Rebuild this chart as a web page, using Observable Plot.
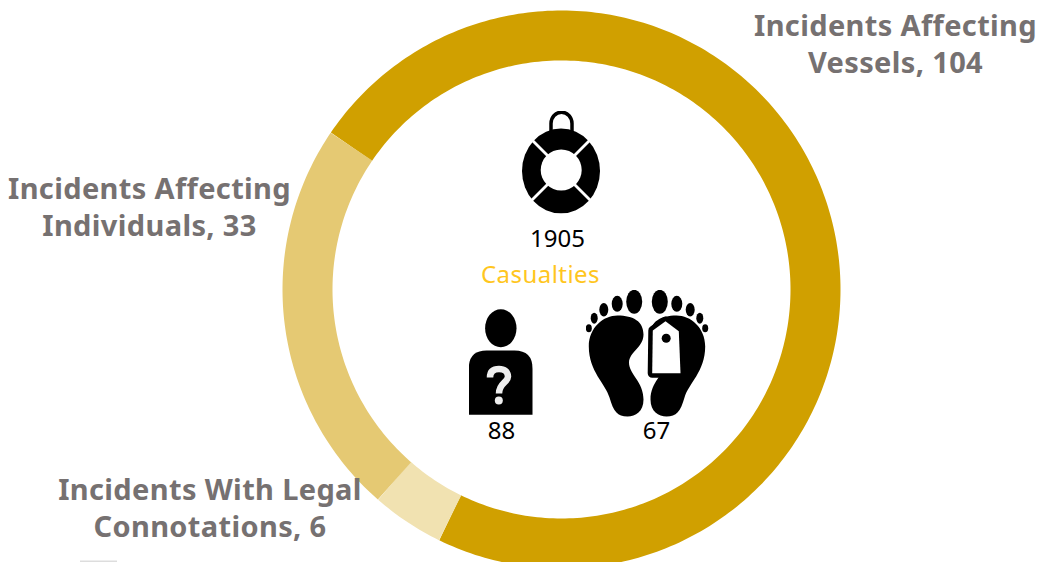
<!DOCTYPE html>
<html>
<head>
<meta charset="utf-8">
<script src="https://cdn.jsdelivr.net/npm/d3@7"></script>
<script src="https://cdn.jsdelivr.net/npm/@observablehq/plot@0.6"></script>
<style>
html,body{margin:0;padding:0;background:#fff;overflow:hidden}
svg{display:block}
.slabel text{letter-spacing:.36px}
.scasual text{letter-spacing:.45px}
</style>
</head>
<body>
<div id="chart"></div>
<script>
// Chart values, in clockwise order around the ring
const categories = ["Incidents Affecting\nVessels", "Incidents With Legal\nConnotations", "Incidents Affecting\nIndividuals"];
const incidents = [104, 6, 33];
const sliceColors = ["#d0a000", "#f1e2b1", "#e5c973"];
const casualtyLabel = "Casualties";
const casualtyValues = [1905, 88, 67];

// Layout (pixels in the 1038x562 frame)
const W = 1038, H = 562;
const cx = 561, cy = 289, ringRadius = 254, ringWidth = 50;
const startDeg = -55.8;
const labelAnchors = [[895, 42], [209.5, 506], [149, 205]];
const valueAnchors = [[557, 239], [501, 431], [656, 431]];

// Ring paths derived from the values
const pie = d3.pie().sort(null).startAngle(startDeg * Math.PI / 180).endAngle((startDeg + 360) * Math.PI / 180);
const arcs = pie(incidents);
const ringPoints = arcs.flatMap((a, i) => {
  const n = Math.ceil((a.endAngle - a.startAngle) / (Math.PI / 180));
  return d3.range(n + 1).map(k => {
    const t = a.startAngle + (a.endAngle - a.startAngle) * k / n;
    return {slice: i, x: cx + ringRadius * Math.sin(t), y: cy - ringRadius * Math.cos(t)};
  });
});

const svgUri = (w, h, body) => "data:image/svg+xml;utf8," + encodeURIComponent(
  `<svg xmlns="http://www.w3.org/2000/svg" width="${w}" height="${h}" viewBox="0 0 ${w} ${h}">${body}</svg>`);

const buoy = svgUri(80, 103, `
  <path d="M29.5 24V13A10.5 11.3 0 0 1 50.5 13V24" fill="none" stroke="#000" stroke-width="3.5"/>
  <ellipse cx="39.5" cy="60.5" rx="39" ry="42.5" fill="#000"/>
  <circle cx="39.7" cy="59.5" r="20.5" fill="#fff"/>
  <g stroke="#fff" stroke-width="2.8">
    <path d="M8 27L27 46"/><path d="M71 27L52 46"/><path d="M8 92L27 73"/><path d="M71 92L52 73"/>
  </g>`);

const person = svgUri(65, 107, `
  <ellipse cx="32.3" cy="19.7" rx="15.7" ry="19" fill="#000"/>
  <path d="M0.3 106.3V60Q0.3 42 18 42H46Q64 42 64 60V106.3Z" fill="#000"/>
  <path d="M21.5 69C21.5 63 25 60.5 30.5 60.5C36 60.5 39.5 63.5 39.5 68C39.5 74 30.5 74.5 30.5 85" fill="none" stroke="#eee" stroke-width="6.5"/>
  <circle cx="30.3" cy="92" r="4" fill="#eee"/>`);

const footPath = "M32 26C48 26 58 32 58 45C58 58 44 62 43.5 73C43.5 85 58 92 58 110C58 122 50 127 42 127C32 127 28 122 24 108C20 94 3.3 82 3.3 57C3.3 38 18 26 32 26Z";
const toes = `<ellipse cx="48.7" cy="12.3" rx="8" ry="12"/><ellipse cx="31.7" cy="14.3" rx="5.5" ry="8"/><ellipse cx="18.3" cy="20.3" rx="4.5" ry="6.7"/><ellipse cx="8.7" cy="28.7" rx="3.5" ry="5.5"/><ellipse cx="3.3" cy="38.7" rx="3" ry="4"/>`;
const tagShape = "67.3,41 80,31.7 93.3,41.7 95,83.7 66.7,83.7";
const feet = svgUri(125, 129, `
  <g fill="#000"><path d="${footPath}"/>${toes}</g>
  <g fill="#000" transform="translate(123 0) scale(-1 1)"><path d="${footPath}"/>${toes}</g>
  <polygon points="${tagShape}" fill="#000" stroke="#000" stroke-width="9" stroke-linejoin="round"/>
  <polygon points="${tagShape}" fill="#fff"/>
  <circle cx="80.7" cy="48.7" r="4.5" fill="#000"/>`);

const icons = [
  {src: buoy, x: 561, y: 161.5, w: 80, h: 103},
  {src: person, x: 500.5, y: 361.5, w: 65, h: 107},
  {src: feet, x: 647.5, y: 353.5, w: 125, h: 129}
];

const labelData = categories.map((c, i) => ({
  text: `${c}, ${incidents[i]}`, x: labelAnchors[i][0], y: labelAnchors[i][1]
}));
const valueData = casualtyValues.map((v, i) => ({text: String(v), x: valueAnchors[i][0], y: valueAnchors[i][1]}));

const chart = Plot.plot({
  width: W, height: H, margin: 0,
  x: {domain: [0, W], range: [0, W], axis: null},
  y: {domain: [0, H], range: [0, H], axis: null},
  style: {background: "#fff"},
  marks: [
    Plot.line(ringPoints, {x: "x", y: "y", z: "slice", stroke: d => sliceColors[d.slice], strokeWidth: ringWidth, strokeLinecap: "butt", strokeLinejoin: "round", curve: "linear"}),
    Plot.text(labelData, {x: "x", y: "y", text: "text", fill: "#767171", fontFamily: "'Noto Sans'", fontWeight: 700, fontSize: 29, lineHeight: 1.27, textAnchor: "middle", lineAnchor: "middle", className: "slabel"}),
    Plot.text(valueData, {x: "x", y: "y", text: "text", fill: "#000", fontFamily: "'Noto Sans'", fontSize: 24, textAnchor: "middle", lineAnchor: "middle"}),
    Plot.text([casualtyLabel], {x: () => 540, y: () => 275, text: d => d, fill: "#ffc61e", fontFamily: "'Noto Sans'", fontSize: 24, textAnchor: "middle", lineAnchor: "middle", className: "scasual"}),
    Plot.image(icons, {x: "x", y: "y", src: "src", width: "w", height: "h", preserveAspectRatio: "none"}),
    Plot.rect([{x1: 80, x2: 117, y1: 560.5, y2: 562}], {x1: "x1", x2: "x2", y1: "y1", y2: "y2", fill: "#ddd"})
  ]
});
document.getElementById("chart").appendChild(chart);
</script>
</body>
</html>
